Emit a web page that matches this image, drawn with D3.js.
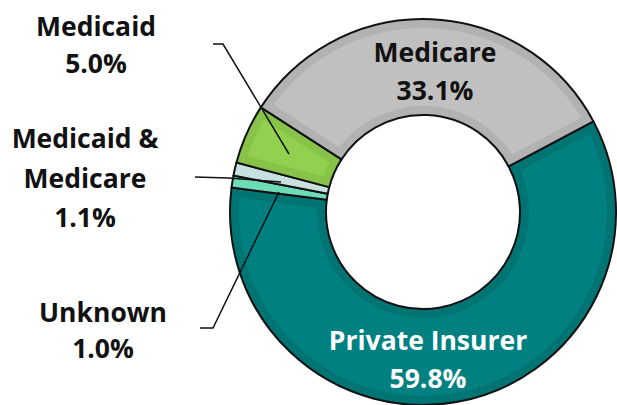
<!DOCTYPE html>
<html>
<head>
<meta charset="utf-8">
<script src="https://cdn.jsdelivr.net/npm/d3@7"></script>
<style>
  html, body { margin: 0; padding: 0; background: #ffffff; }
  svg { display: block; }
  text { font-family: "Open Sans", "Noto Sans", sans-serif; font-weight: 700; }
</style>
</head>
<body>
<svg id="chart" width="617" height="405"></svg>
<script>
// Payer mix, in drawing order (clockwise)
const categories = ["Private Insurer", "Unknown", "Medicaid & Medicare", "Medicaid", "Medicare"];
const shares = [59.8, 1.0, 1.1, 5.0, 33.1];
const fills = ["#008080", "#76e6c3", "#d5ebeb", "#92d050", "#c0c0c0"];
const edges = ["#007373", "#6cdbb8", "#c9e0e0", "#86c348", "#b2b2b2"];

const width = 617, height = 405;
const cx = 423, cy = 212;
const outerR = 193, innerR = 97;
const startDeg = 62;

const svg = d3.select("#chart");
const g = svg.append("g").attr("transform", `translate(${cx},${cy})`);

const pie = d3.pie()
  .sort(null)
  .value(d => d.value)
  .startAngle(startDeg * Math.PI / 180)
  .endAngle(startDeg * Math.PI / 180 + 2 * Math.PI);

const data = categories.map((c, i) => ({ name: c, value: shares[i], fill: fills[i], edge: edges[i] }));
const arcs = pie(data);
const arc = d3.arc().innerRadius(innerR).outerRadius(outerR);

const defs = svg.append("defs");
arcs.forEach((a, i) => {
  defs.append("clipPath").attr("id", "clip" + i)
    .append("path").attr("d", arc(a));
});

const slices = g.selectAll("g.slice").data(arcs).join("g").attr("class", "slice");

// body of each slice
slices.append("path")
  .attr("d", arc)
  .attr("fill", d => d.data.fill);

// darker inner rim along every edge of the slice
slices.append("path")
  .attr("d", arc)
  .attr("fill", "none")
  .attr("stroke", d => d.data.edge)
  .attr("stroke-width", 18)
  .attr("clip-path", (d, i) => `url(#clip${i})`);

// outline
slices.append("path")
  .attr("d", arc)
  .attr("fill", "none")
  .attr("stroke", "#111")
  .attr("stroke-width", 2)
  .attr("stroke-linejoin", "round");

// leader lines for the small slices
const leaders = [
  [[213, 44], [223, 44], [289, 154]],
  [[195, 177], [228, 178], [281, 182]],
  [[200, 328], [213, 328], [279, 192]]
];
svg.append("g").selectAll("path").data(leaders).join("path")
  .attr("d", d3.line())
  .attr("fill", "none")
  .attr("stroke", "#111")
  .attr("stroke-width", 1.5);

// labels: [lines, x, first baseline, line step, colour]
const labels = [
  { lines: ["Medicare", "33.1%"], x: 435, y: 62, step: 38, color: "#111" },
  { lines: ["Private Insurer", "59.8%"], x: 428, y: 350, step: 38, color: "#ffffff" },
  { lines: ["Medicaid", "5.0%"], x: 96, y: 36, step: 37, color: "#111" },
  { lines: ["Medicaid &", "Medicare", "1.1%"], x: 85, y: 148, step: 39.5, color: "#111" },
  { lines: ["Unknown", "1.0%"], x: 103, y: 322, step: 36, color: "#111" }
];
labels.forEach(l => {
  const t = svg.append("text")
    .attr("text-anchor", "middle")
    .attr("font-size", 26.5)
    .attr("fill", l.color);
  l.lines.forEach((s, k) => {
    t.append("tspan").attr("x", l.x).attr("y", l.y + k * l.step).text(s);
  });
});
</script>
</body>
</html>
